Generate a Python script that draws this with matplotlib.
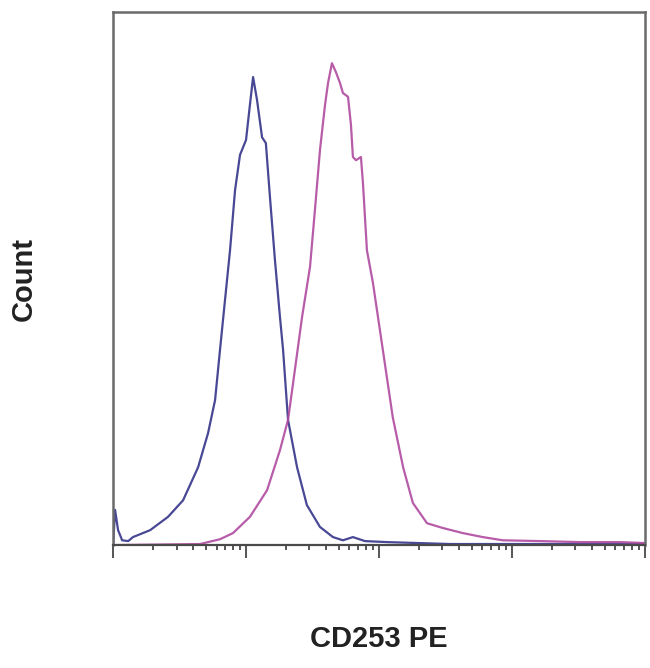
import matplotlib
matplotlib.use("Agg")
import matplotlib.pyplot as plt
from matplotlib.ticker import LogLocator, NullFormatter

# isotype control (blue)
ctrl_x = [1.00, 1.035, 1.09, 1.17, 1.30, 1.41, 1.90, 2.59, 3.36, 4.36, 5.18, 5.85,
          6.37, 6.95, 7.58, 8.27, 9.01, 10.0, 10.7, 11.3, 12.1, 13.2, 14.1, 15.2,
          16.5, 18.0, 19.0, 20.7, 24.2, 28.7, 36.0, 45.1, 53.6, 63.7, 78.5, 115,
          342, 10000]
ctrl_y = [0, 6.6, 2.8, 0.9, 0.75, 1.5, 2.8, 5.3, 8.4, 14.6, 21.0, 27.2,
          36.6, 46.0, 55.3, 66.6, 73.2, 76.0, 82.6, 87.8, 83.5, 76.5, 75.4, 64.7,
          53.5, 42.8, 36.6, 23.5, 14.6, 7.5, 3.4, 1.5, 0.9, 1.5, 0.75, 0.56,
          0.2, 0.2]

# CD253 PE stained (magenta)
cd253_x = [1.00, 4.51, 6.37, 7.98, 10.7, 14.4, 18.0, 20.7, 22.6, 26.4, 30.3, 33.0,
           36.0, 39.3, 41.4, 44.3, 47.5, 50.9, 53.6, 58.5, 61.6, 63.7, 67.2, 73.2,
           75.8, 81.2, 90.1, 107, 127, 152, 180, 230, 303, 428, 605, 855,
           1620, 3250, 6490, 10000]
cd253_y = [0, 0.2, 1.1, 2.25, 5.3, 10.3, 17.8, 23.5, 30.4, 42.8, 52.2, 62.9,
           74.1, 82.6, 86.7, 90.4, 88.7, 86.7, 84.8, 84.1, 78.8, 72.8, 72.2, 72.8,
           67.9, 55.3, 49.2, 36.6, 24.0, 14.6, 7.9, 4.1, 3.2, 2.25, 1.5, 0.9,
           0.75, 0.56, 0.56, 0.38]

fig = plt.figure(figsize=(6.5, 6.68), dpi=100)
ax = fig.add_axes([0.174, 0.184, 0.818, 0.798])

ax.plot(ctrl_x, ctrl_y, color="#34348a", lw=1.6, alpha=0.9)
ax.plot(cd253_x, cd253_y, color="#b04aa0", lw=1.6, alpha=0.9)

ax.set_xscale("log")
ax.set_xlim(1, 10000)
ax.set_ylim(0, 100)

for s in ["top", "right", "left"]:
    ax.spines[s].set_color("#6a6a6a")
    ax.spines[s].set_linewidth(1.8)
ax.spines["bottom"].set_color("#4a4a4a")
ax.spines["bottom"].set_linewidth(1.6)

ax.xaxis.set_major_locator(LogLocator(base=10, numticks=10))
ax.xaxis.set_minor_locator(LogLocator(base=10, subs=range(2, 10), numticks=50))
ax.xaxis.set_major_formatter(NullFormatter())
ax.xaxis.set_minor_formatter(NullFormatter())
ax.tick_params(axis="x", which="major", length=9, width=1.4, color="#555555", direction="out")
ax.tick_params(axis="x", which="minor", length=3.5, width=1.4, color="#555555", direction="out")
ax.set_yticks([])

ax.set_xlabel("CD253 PE", fontsize=21, family="Liberation Sans", fontweight="bold",
              labelpad=45, color="#222222")
ax.set_ylabel("Count", fontsize=21, family="Liberation Sans", fontweight="bold",
              labelpad=54, color="#222222")

fig.savefig("out.png", dpi=100)
